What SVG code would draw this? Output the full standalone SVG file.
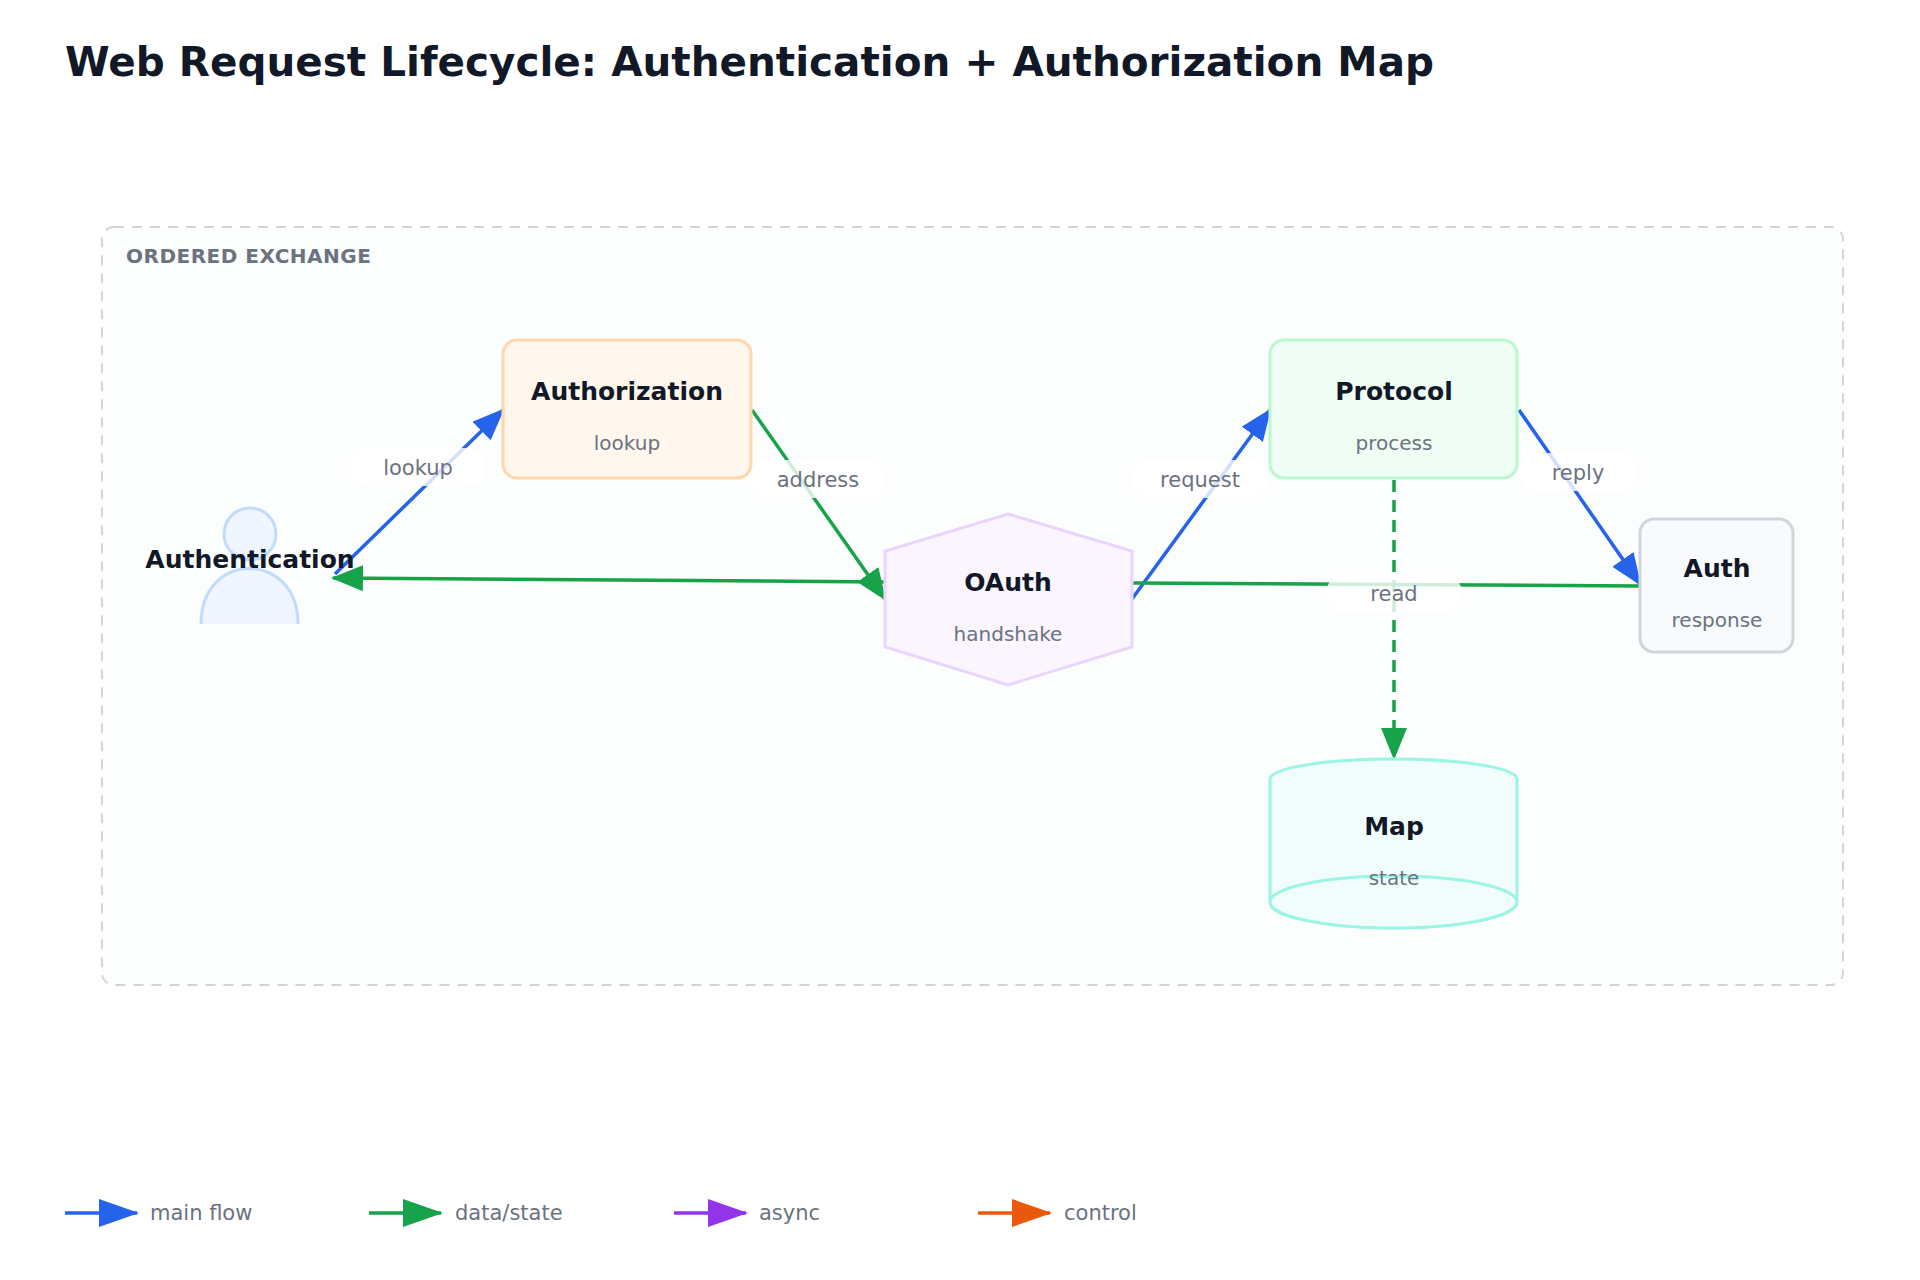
<svg xmlns="http://www.w3.org/2000/svg" width="1920" height="1280" viewBox="0 0 1920 1280">
<style>
text{font-family:"DejaVu Sans","Noto Sans",sans-serif}
.title{font-size:40.5px;font-weight:bold;fill:#111827}
.grp{font-size:20px;font-weight:bold;fill:#6b7280;letter-spacing:0.5px}
.nt{font-size:25px;font-weight:bold;fill:#111827;text-anchor:middle}
.ns{font-size:20px;fill:#6b7280;text-anchor:middle}
.el{font-size:21px;fill:#6b7280;text-anchor:middle}
.lg{font-size:21px;fill:#6b7280}
.lbg{fill:#ffffff;fill-opacity:0.8}
.e{fill:none;stroke-width:3.5}
.blue{stroke:#2563eb}.green{stroke:#16a34a}.purple{stroke:#9333ea}.orange{stroke:#ea580c}
</style>
<defs>
<marker id="ab" markerUnits="userSpaceOnUse" markerWidth="32" markerHeight="26" refX="30" refY="13" orient="auto"><path d="M0,0 L32,13 L0,26 Z" fill="#2563eb"/></marker>
<marker id="ag" markerUnits="userSpaceOnUse" markerWidth="32" markerHeight="26" refX="30" refY="13" orient="auto"><path d="M0,0 L32,13 L0,26 Z" fill="#16a34a"/></marker>
<marker id="lb" markerUnits="userSpaceOnUse" markerWidth="40" markerHeight="28" refX="38" refY="14" orient="auto"><path d="M0,0 L40,14 L0,28 Z" fill="#2563eb"/></marker>
<marker id="lgm" markerUnits="userSpaceOnUse" markerWidth="40" markerHeight="28" refX="38" refY="14" orient="auto"><path d="M0,0 L40,14 L0,28 Z" fill="#16a34a"/></marker>
<marker id="lp" markerUnits="userSpaceOnUse" markerWidth="40" markerHeight="28" refX="38" refY="14" orient="auto"><path d="M0,0 L40,14 L0,28 Z" fill="#9333ea"/></marker>
<marker id="lo" markerUnits="userSpaceOnUse" markerWidth="40" markerHeight="28" refX="38" refY="14" orient="auto"><path d="M0,0 L40,14 L0,28 Z" fill="#ea580c"/></marker>
</defs>
<rect width="1920" height="1280" fill="#ffffff"/>
<text class="title" x="65" y="76">Web Request Lifecycle: Authentication + Authorization Map</text>
<g id="group-ordered-exchange">
<rect x="102" y="227" width="1741" height="758" rx="12" fill="#fcfdfd" stroke="#d1d5db" stroke-width="2" stroke-dasharray="10 8"/>
<text class="grp" x="126" y="263">ORDERED EXCHANGE</text>
</g>
<g id="connectors">
<path class="e blue" d="M335,574 L503,410" marker-end="url(#ab)"/>
<path class="e green" d="M752,410 L885,599" marker-end="url(#ag)"/>
<path class="e green" d="M885,582 L333,578" marker-end="url(#ag)"/>
<path class="e blue" d="M1132,599 L1270,410" marker-end="url(#ab)"/>
<path class="e blue" d="M1519,410 L1640,584" marker-end="url(#ab)"/>
<path class="e green" d="M1640,586 L1132,583"/>
<path class="e green" d="M1394,480 L1394,758" stroke-dasharray="12 8" marker-end="url(#ag)"/>
<rect class="lbg" x="350" y="448" width="136" height="38" rx="19"/><text class="el" x="418" y="475">lookup</text>
<rect class="lbg" x="750" y="460" width="136" height="38" rx="19"/><text class="el" x="818" y="487">address</text>
<rect class="lbg" x="1132" y="460" width="136" height="38" rx="19"/><text class="el" x="1200" y="487">request</text>
<rect class="lbg" x="1520" y="453" width="116" height="38" rx="19"/><text class="el" x="1578" y="480">reply</text>
<rect class="lbg" x="1326" y="574" width="136" height="38" rx="19"/><text class="el" x="1394" y="601">read</text>
</g>
<g id="node-authentication">
<circle cx="250" cy="534" r="26" fill="#eff6ff" stroke="#bfdbfe" stroke-width="3"/>
<path d="M201,624 C201,550 298,550 298,624" fill="#eff6ff" stroke="#bfdbfe" stroke-width="3"/>
<text class="nt" x="250" y="568">Authentication</text>
</g>
<g id="node-authorization">
<rect x="503" y="340" width="248" height="138" rx="14" fill="#fff7ed" stroke="#fed7aa" stroke-width="3"/>
<text class="nt" x="627" y="400">Authorization</text>
<text class="ns" x="627" y="450">lookup</text>
</g>
<g id="node-oauth">
<polygon points="1008,514 1132,551 1132,647 1008,685 885,647 885,551" fill="#faf5ff" stroke="#e9d5ff" stroke-width="3"/>
<text class="nt" x="1008" y="591">OAuth</text>
<text class="ns" x="1008" y="641">handshake</text>
</g>
<g id="node-protocol">
<rect x="1270" y="340" width="247" height="138" rx="14" fill="#f0fdf4" stroke="#bbf7d0" stroke-width="3"/>
<text class="nt" x="1394" y="400">Protocol</text>
<text class="ns" x="1394" y="450">process</text>
</g>
<g id="node-auth">
<rect x="1640" y="519" width="153" height="133" rx="14" fill="#f8fafc" stroke="#d1d5db" stroke-width="3"/>
<text class="nt" x="1717" y="577">Auth</text>
<text class="ns" x="1717" y="627">response</text>
</g>
<g id="node-map">
<path d="M1270,779 A123.5,20 0 0 1 1517,779 L1517,902 A123.5,26 0 0 1 1270,902 Z" fill="#f0fdfa" stroke="#99f6e4" stroke-width="3"/>
<ellipse cx="1393.5" cy="902" rx="123.5" ry="26" fill="#f0fdfa" stroke="#99f6e4" stroke-width="3"/>
<text class="nt" x="1394" y="835">Map</text>
<text class="ns" x="1394" y="885">state</text>
</g>
<g id="legend">
<path class="e blue" d="M65,1213 L137,1213" marker-end="url(#lb)"/><text class="lg" x="150" y="1220">main flow</text>
<path class="e green" d="M369,1213 L441,1213" marker-end="url(#lgm)"/><text class="lg" x="455" y="1220">data/state</text>
<path class="e purple" d="M674,1213 L746,1213" marker-end="url(#lp)"/><text class="lg" x="759" y="1220">async</text>
<path class="e orange" d="M978,1213 L1050,1213" marker-end="url(#lo)"/><text class="lg" x="1064" y="1220">control</text>
</g>
</svg>
